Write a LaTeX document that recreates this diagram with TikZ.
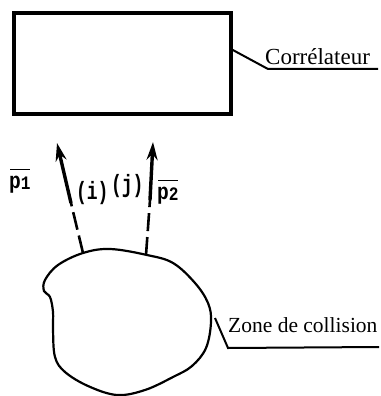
\documentclass[tikz,border=0pt]{standalone}
\usepackage{fontspec}
\setmainfont{Liberation Serif}
\newfontfamily\monof{Liberation Mono}
\usetikzlibrary{arrows.meta,calc}
\begin{document}
\begin{tikzpicture}[x=1pt,y=-1pt,
  lbl/.style={inner sep=0pt},
  plbl/.style={inner sep=0pt,font=\monof\bfseries\fontsize{23}{24}\selectfont,xscale=0.85},
  ijlbl/.style={inner sep=0pt,font=\monof\bfseries\fontsize{25}{26}\selectfont,xscale=0.72},
  bar/.style={line width=1.4pt},
  leader/.style={line width=2pt},
  shaft/.style={line width=3.4pt,-{Stealth[length=18pt,width=11pt]}},
  dsh/.style={line width=2.6pt,dash pattern=on 18pt off 6pt}]
\useasboundingbox (0,0) rectangle (380,396);
% correlator box
\node (box) [draw,line width=3.4pt,minimum width=217pt,minimum height=101pt,inner sep=0pt] at (122.5,63.5) {};
\node (corr) [lbl,font=\fontsize{23}{24}\selectfont,anchor=base west] at (265,65) {Corrélateur};
\coordinate (c1) at ($(box.north east)!0.37!(box.south east)$);
\coordinate (c2) at (268,69);
\coordinate (c3) at (378,69);
\draw[leader] (c1) -- (c2) -- (c3);
% collision zone
\draw[line width=2.2pt] plot[smooth cycle,tension=0.6] coordinates {
 (110,249) (147,255) (173,263) (195,283) (208,303) (211,322) (206,348) (192,366) (173,377)
 (145,390) (117,395) (88,386) (65,372) (55,357) (53,330) (53,312) (50,297) (44,291) (45,280) (58,265) (83,253)};
\coordinate (b1) at (83,253);
\coordinate (b2) at (146,255);
\coordinate (m1) at (71,203);
\coordinate (m2) at (150,200);
\coordinate (t1) at (57,143);
\coordinate (t2) at (153,142);
\draw[dsh] (b1) -- (m1);
\draw[dsh] (b2) -- (m2);
\draw[shaft] (m1) -- (t1);
\draw[shaft] (m2) -- (t2);
\node (zone) [lbl,font=\fontsize{21.5}{24}\selectfont,anchor=base west] at (228,332) {Zone de collision};
\coordinate (z1) at (215,318);
\coordinate (z2) at (228,348);
\coordinate (z3) at (379,347);
\draw[leader] (z1) -- (z2) -- (z3);
% labels
\node (p1) [plbl,anchor=base west] at (9,188) {p\raisebox{-1pt}{\fontsize{19}{20}\selectfont 1}};
\draw[bar] ($(p1.north west)+(1,-6)$) -- ($(p1.north east)+(-1,-6)$);
\node (i) [ijlbl,anchor=base west] at (76,199) {(i)};
\node (j) [ijlbl,anchor=base west] at (111,192) {(j)};
\node (p2) [plbl,anchor=base west] at (157,199) {p\raisebox{-1pt}{\fontsize{19}{20}\selectfont 2}};
\draw[bar] ($(p2.north west)+(1,-6)$) -- ($(p2.north east)+(-1,-6)$);
\end{tikzpicture}
\end{document}
